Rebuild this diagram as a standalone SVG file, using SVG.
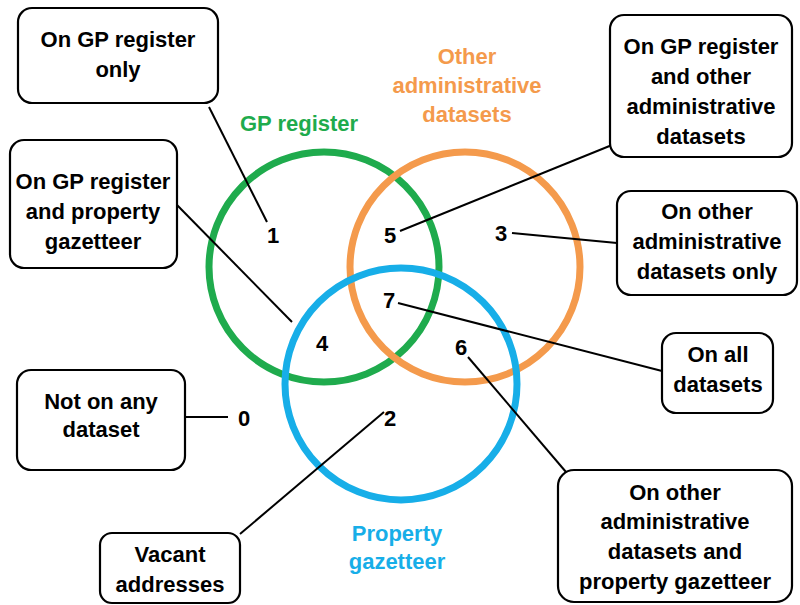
<svg xmlns="http://www.w3.org/2000/svg" width="800" height="605" viewBox="0 0 800 605">
<style>
.box rect{fill:#fff;stroke:#000;stroke-width:2.2}
text{font-family:"Liberation Sans",Arial,sans-serif;font-weight:bold;font-size:22px;text-anchor:middle;fill:#000}
text.g{fill:#1fab4d}
text.o{fill:#f49a4c}
text.b{fill:#17aee8}
.ring{fill:none;stroke-width:7}
.conn line{stroke:#000;stroke-width:2}
</style>
<rect width="800" height="605" fill="#fff"/>
<g id="sets">
<circle id="gp" class="ring" cx="324" cy="267" r="115" stroke="#1fab4d"/>
<circle id="other" class="ring" cx="465" cy="267" r="115" stroke="#f49a4c"/>
<circle id="prop" class="ring" cx="401" cy="384" r="116" stroke="#17aee8"/>
<text class="g" x="299" y="131">GP register</text>
<text class="o" x="467" y="64">Other</text>
<text class="o" x="467" y="93">administrative</text>
<text class="o" x="467" y="122">datasets</text>
<text class="b" x="397" y="541">Property</text>
<text class="b" x="397" y="569">gazetteer</text>
</g>
<g id="connectors" class="conn">
<line x1="209" y1="107" x2="267" y2="222"/>
<line x1="177" y1="205" x2="292" y2="322"/>
<line x1="612" y1="145" x2="400" y2="231"/>
<line x1="512" y1="233" x2="617" y2="243"/>
<line x1="398" y1="303" x2="662" y2="371"/>
<line x1="468" y1="357" x2="566" y2="472"/>
<line x1="185" y1="417" x2="228" y2="417"/>
<line x1="240" y1="534" x2="384" y2="412"/>
</g>
<g id="numbers">
<text x="273" y="243">1</text>
<text x="390" y="243">5</text>
<text x="501" y="241">3</text>
<text x="389" y="308">7</text>
<text x="322" y="351">4</text>
<text x="461" y="355">6</text>
<text x="244" y="426">0</text>
<text x="390" y="426">2</text>
</g>
<g id="box-gp-only" class="box">
<rect x="18" y="8" width="200" height="95" rx="14"/>
<text x="118" y="47">On GP register</text>
<text x="118" y="77">only</text>
</g>
<g id="box-gp-prop" class="box">
<rect x="10" y="140" width="167" height="128" rx="14"/>
<text x="93" y="189">On GP register</text>
<text x="93" y="219">and property</text>
<text x="93" y="249">gazetteer</text>
</g>
<g id="box-gp-other" class="box">
<rect x="610" y="15" width="182" height="142" rx="14"/>
<text x="701" y="54">On GP register</text>
<text x="701" y="84">and other</text>
<text x="701" y="114">administrative</text>
<text x="701" y="144">datasets</text>
</g>
<g id="box-other-only" class="box">
<rect x="617" y="191" width="180" height="104" rx="14"/>
<text x="707" y="219">On other</text>
<text x="707" y="249">administrative</text>
<text x="707" y="279">datasets only</text>
</g>
<g id="box-all" class="box">
<rect x="662" y="333" width="111" height="80" rx="14"/>
<text x="718" y="362">On all</text>
<text x="718" y="392">datasets</text>
</g>
<g id="box-other-prop" class="box">
<rect x="558" y="470" width="234" height="132" rx="16"/>
<text x="675" y="500">On other</text>
<text x="675" y="529">administrative</text>
<text x="675" y="559">datasets and</text>
<text x="675" y="589">property gazetteer</text>
</g>
<g id="box-none" class="box">
<rect x="17" y="370" width="168" height="100" rx="14"/>
<text x="101" y="409">Not on any</text>
<text x="101" y="437">dataset</text>
</g>
<g id="box-vacant" class="box">
<rect x="100" y="533" width="140" height="70" rx="12"/>
<text x="170" y="562">Vacant</text>
<text x="170" y="592">addresses</text>
</g>
</svg>
